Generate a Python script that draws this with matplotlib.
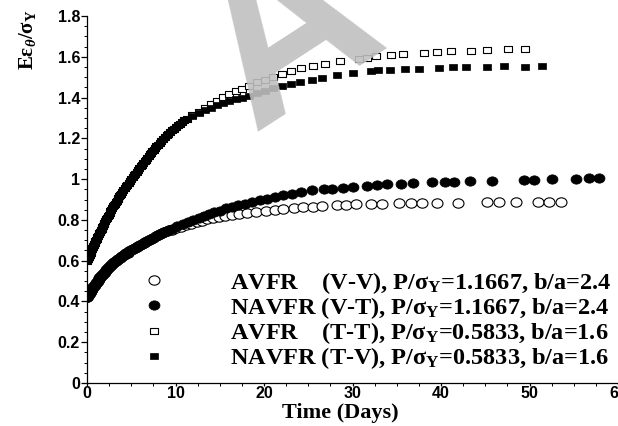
import matplotlib
matplotlib.use("Agg")
import matplotlib.pyplot as plt
from matplotlib.path import Path
from matplotlib.transforms import Affine2D

# early part: the two square curves (T-T and T-V) lie on top of each other
t_sq_early = [0.00, 0.05, 0.10, 0.15, 0.20, 0.25, 0.30, 0.35, 0.40, 0.45, 0.50, 0.55,
              0.60, 0.65, 0.70, 0.75, 0.80, 0.85, 0.90, 0.95, 1.00, 1.08, 1.16, 1.24,
              1.32, 1.40, 1.48, 1.56, 1.64, 1.72, 1.80, 1.88, 1.96, 2.05, 2.15, 2.25,
              2.35, 2.45, 2.55, 2.65, 2.75, 2.85, 2.95, 3.05, 3.15, 3.25, 3.35, 3.45,
              3.55, 3.65, 3.75, 3.85, 3.95, 4.10, 4.25, 4.40, 4.55, 4.70, 4.85, 5.00,
              5.15, 5.30, 5.45, 5.60, 5.75, 5.90, 6.05, 6.20, 6.35, 6.50, 6.65, 6.80,
              6.95, 7.10, 7.25, 7.40, 7.55, 7.70, 7.85, 8.00, 8.20, 8.40, 8.60, 8.80,
              9.00, 9.20, 9.40, 9.60, 9.80, 10.00, 10.25, 10.50, 10.75, 11.00, 11.30]
y_sq_early = [0.600, 0.605, 0.610, 0.615, 0.620, 0.625, 0.630, 0.635, 0.640, 0.645,
              0.650, 0.655, 0.660, 0.665, 0.670, 0.675, 0.680, 0.685, 0.690, 0.695,
              0.700, 0.707, 0.715, 0.722, 0.729, 0.736, 0.743, 0.750, 0.757, 0.765,
              0.772, 0.779, 0.786, 0.794, 0.802, 0.810, 0.818, 0.826, 0.834, 0.842,
              0.850, 0.858, 0.866, 0.873, 0.880, 0.887, 0.894, 0.901, 0.908, 0.915,
              0.922, 0.929, 0.936, 0.946, 0.955, 0.964, 0.973, 0.982, 0.991, 1.000,
              1.009, 1.018, 1.027, 1.036, 1.045, 1.054, 1.063, 1.071, 1.080, 1.088,
              1.096, 1.104, 1.113, 1.121, 1.129, 1.137, 1.145, 1.153, 1.161, 1.169,
              1.178, 1.188, 1.197, 1.206, 1.215, 1.223, 1.231, 1.239, 1.247, 1.255,
              1.264, 1.272, 1.280, 1.288, 1.297]

# AVFR (T-T), open squares
t_avfr_tt = [11.9, 12.6, 13.3, 14.0, 14.7, 15.4, 16.1, 16.8, 17.5, 18.3, 19.2, 20.1,
             21.0, 22.0, 23.1, 24.2, 25.5, 26.9, 28.6, 30.7, 31.6, 32.7, 34.4, 35.7,
             38.1, 39.6, 41.1, 43.4, 45.2, 47.6, 49.5]
y_avfr_tt = [1.312, 1.330, 1.349, 1.367, 1.385, 1.401, 1.416, 1.430, 1.444, 1.459,
             1.474, 1.488, 1.502, 1.517, 1.530, 1.543, 1.556, 1.567, 1.580, 1.591,
             1.595, 1.603, 1.608, 1.613, 1.619, 1.623, 1.627, 1.630, 1.635, 1.637,
             1.640]

# NAVFR (T-V), filled squares
t_navfr_tv = [11.9, 12.6, 13.3, 14.0, 14.7, 15.4, 16.1, 16.8, 17.5, 18.3, 19.2, 20.1,
              21.0, 22.0, 23.1, 24.1, 25.4, 26.6, 28.3, 30.0, 32.1, 32.9, 34.2, 35.9,
              37.5, 39.8, 41.3, 42.8, 45.2, 47.1, 49.5, 51.4]
y_navfr_tv = [1.310, 1.324, 1.338, 1.351, 1.362, 1.372, 1.382, 1.391, 1.400, 1.410,
              1.421, 1.434, 1.445, 1.456, 1.467, 1.477, 1.488, 1.498, 1.510, 1.521,
              1.530, 1.534, 1.536, 1.539, 1.542, 1.546, 1.548, 1.549, 1.551, 1.554,
              1.552, 1.555]

# early part: the two circle curves (V-V and V-T) lie on top of each other
t_ci_early = [0.00, 0.05, 0.10, 0.15, 0.20, 0.25, 0.30, 0.35, 0.40, 0.45, 0.50, 0.55,
              0.60, 0.70, 0.80, 0.90, 1.00, 1.10, 1.20, 1.30, 1.40, 1.50, 1.60, 1.70,
              1.80, 1.90, 2.00, 2.12, 2.24, 2.36, 2.48, 2.60, 2.72, 2.84, 2.96, 3.10,
              3.25, 3.40, 3.55, 3.70, 3.85, 4.00, 4.15, 4.30, 4.45, 4.60, 4.80, 5.00,
              5.20, 5.40, 5.60, 5.80, 6.00, 6.20, 6.40, 6.60, 6.80, 7.00, 7.25, 7.50,
              7.75, 8.00, 8.25, 8.50, 8.75, 9.00, 9.30]
y_ci_early = [0.420, 0.424, 0.428, 0.432, 0.436, 0.440, 0.443, 0.447, 0.450, 0.454,
              0.457, 0.460, 0.464, 0.470, 0.477, 0.483, 0.490, 0.496, 0.502, 0.508,
              0.514, 0.520, 0.525, 0.531, 0.536, 0.541, 0.546, 0.552, 0.558, 0.563,
              0.569, 0.574, 0.579, 0.584, 0.589, 0.594, 0.599, 0.604, 0.609, 0.614,
              0.619, 0.623, 0.628, 0.632, 0.636, 0.640, 0.645, 0.651, 0.656, 0.661,
              0.666, 0.671, 0.676, 0.681, 0.686, 0.691, 0.696, 0.701, 0.707, 0.713,
              0.719, 0.725, 0.730, 0.735, 0.740, 0.744, 0.749]

# AVFR (V-V), open circles
t_avfr_vv = [9.6, 10.1, 10.6, 11.2, 11.8, 12.4, 13.0, 13.6, 14.2, 14.9, 15.6, 16.4,
             17.2, 18.1, 19.1, 20.2, 21.2, 22.2, 23.4, 24.4, 25.5, 26.6, 28.2, 29.3,
             30.4, 32.1, 33.3, 35.3, 36.6, 37.8, 39.5, 41.9, 45.2, 46.6, 48.5, 51.0,
             52.2, 53.6]
y_avfr_vv = [0.752, 0.759, 0.766, 0.774, 0.782, 0.789, 0.796, 0.803, 0.809, 0.815,
             0.820, 0.825, 0.830, 0.834, 0.839, 0.843, 0.847, 0.851, 0.856, 0.861,
             0.865, 0.868, 0.872, 0.874, 0.876, 0.878, 0.880, 0.881, 0.882, 0.882,
             0.884, 0.883, 0.886, 0.886, 0.886, 0.887, 0.887, 0.889]

# NAVFR (V-T), filled circles
t_navfr_vt = [9.6, 10.2, 10.8, 11.4, 12.0, 12.6, 13.2, 13.8, 14.4, 15.0, 15.7, 16.4,
              17.1, 17.9, 18.7, 19.5, 20.3, 21.2, 22.1, 23.2, 24.2, 25.4, 26.8, 27.7,
              28.9, 30.0, 31.6, 32.8, 33.9, 35.5, 36.8, 39.0, 40.4, 41.5, 43.3, 45.8,
              49.4, 50.5, 52.5, 55.2, 56.7, 57.8]
y_navfr_vt = [0.756, 0.768, 0.779, 0.790, 0.800, 0.810, 0.819, 0.828, 0.837, 0.846,
              0.856, 0.864, 0.872, 0.880, 0.888, 0.896, 0.904, 0.912, 0.920, 0.929,
              0.937, 0.945, 0.950, 0.953, 0.958, 0.962, 0.966, 0.970, 0.974, 0.978,
              0.981, 0.984, 0.986, 0.987, 0.990, 0.992, 0.996, 0.998, 0.999, 1.001,
              1.004, 1.006]

labels = ["AVFR    (V-V), P/σ$_\\mathrm{Y}$=1.1667, b/a=2.4",
          "NAVFR (V-T), P/σ$_\\mathrm{Y}$=1.1667, b/a=2.4",
          "AVFR    (T-T), P/σ$_\\mathrm{Y}$=0.5833, b/a=1.6",
          "NAVFR (T-V), P/σ$_\\mathrm{Y}$=0.5833, b/a=1.6"]

x_ticks = [0, 10, 20, 30, 40, 50, 60]
y_ticks = [0, 0.2, 0.4, 0.6, 0.8, 1.0, 1.2, 1.4, 1.6, 1.8]
y_tick_labels = ["0", "0.2", "0.4", "0.6", "0.8", "1", "1.2", "1.4", "1.6", "1.8"]

plt.rcParams["font.family"] = ["Liberation Sans", "DejaVu Sans"]
plt.rcParams["mathtext.fontset"] = "custom"
plt.rcParams["mathtext.rm"] = "Liberation Serif:bold"
plt.rcParams["mathtext.it"] = "Liberation Serif:italic:bold"
plt.rcParams["mathtext.bf"] = "Liberation Serif:bold"

# the picture is a bit stretched sideways, so markers are wider than tall
ellipse = Affine2D().scale(1.0, 0.85).transform_path(Path.unit_circle())
rect = Path([(-1, -0.78), (1, -0.78), (1, 0.78), (-1, 0.78), (-1, -0.78)], closed=True)

fig = plt.figure(figsize=(6.18, 4.26), dpi=100)
ax = fig.add_axes([87 / 618, 43 / 426, 531 / 618, 367 / 426])

h1, = ax.plot(t_ci_early + t_avfr_vv, y_ci_early + y_avfr_vv, ls="none", marker=ellipse,
              ms=7.9, mfc="white", mec="black", mew=0.8)
h2, = ax.plot(t_ci_early + t_navfr_vt, y_ci_early + y_navfr_vt, ls="none", marker=ellipse,
              ms=7.9, mfc="black", mec="black", mew=0.5)
h3, = ax.plot(t_sq_early + t_avfr_tt, y_sq_early + y_avfr_tt, ls="none", marker=rect,
              ms=6.0, mfc="white", mec="black", mew=0.8)
h4, = ax.plot(t_sq_early + t_navfr_tv, y_sq_early + y_navfr_tv, ls="none", marker=rect,
              ms=6.0, mfc="black", mec="black", mew=0.5)

ax.set_xlim(0, 60)
ax.set_ylim(0, 1.8)
ax.set_xticks(x_ticks)
ax.set_yticks(y_ticks)
ax.set_yticklabels(y_tick_labels)
ax.set_xticks([t + 2.5 * k for t in x_ticks[:-1] for k in (1, 2, 3)], minor=True)
ax.set_yticks([v + 0.05 * k for v in y_ticks[:-1] for k in (1, 2, 3)], minor=True)
for s in ["top", "right"]:
    ax.spines[s].set_visible(False)
for s in ["left", "bottom"]:
    ax.spines[s].set_linewidth(0.9)
ax.tick_params(which="major", direction="out", length=4, width=0.9, pad=1,
               labelsize=11.5)
ax.tick_params(which="minor", direction="out", length=2, width=0.7)
ax.tick_params(axis="x", which="major", length=2.5, pad=0)
for lab in ax.get_xticklabels() + ax.get_yticklabels():
    lab.set_fontweight("bold")

ax.set_xlabel("Time (Days)", family="Liberation Serif", weight="bold", fontsize=16)
ax.xaxis.set_label_coords(0.477, -0.054)
ax.set_ylabel("Eε$_\\theta$/σ$_\\mathrm{Y}$", family="Liberation Serif", weight="bold",
              fontsize=15, va="center")
ax.yaxis.set_label_coords(-0.112, 0.935)

ax.legend([h1, h2, h3, h4], labels, loc="center left", bbox_to_anchor=(0.2295, 0.2477),
          bbox_transform=fig.transFigure, frameon=False, handlelength=1.0,
          handletextpad=2.63, labelspacing=-0.03, borderpad=0, borderaxespad=0,
          prop=dict(family="Liberation Serif", weight="bold", size=17.5))

# grey watermark letter
fig.text(252 / 618, 1 - 132 / 426, "A", fontsize=165, family="Liberation Sans",
         weight="bold", color="#c0c0c0", alpha=0.9, rotation=33, rotation_mode="anchor",
         ha="left", va="baseline", zorder=10)

fig.savefig("out.png", dpi=100)
